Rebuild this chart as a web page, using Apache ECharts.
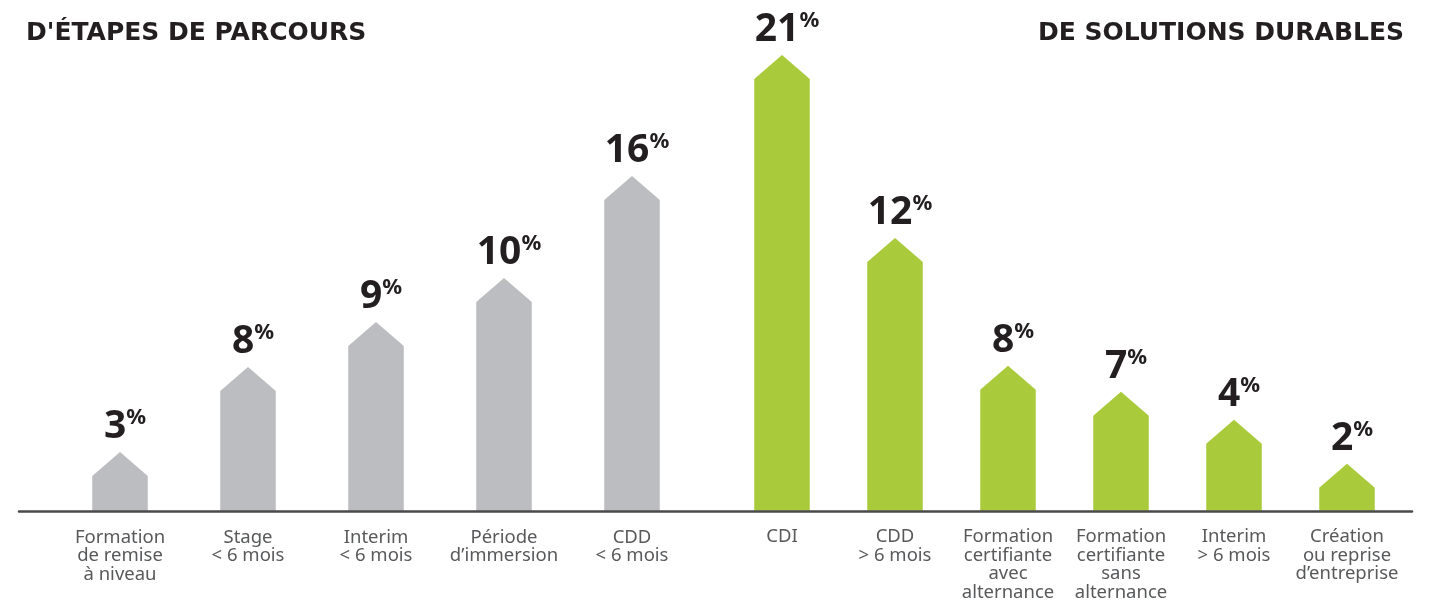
<!DOCTYPE html>
<html>
<head>
<meta charset="utf-8">
<script src="https://cdn.jsdelivr.net/npm/echarts@6.0.0/dist/echarts.min.js"></script>
<style>
html,body{margin:0;padding:0;background:#fff;}
#chart{width:1439px;height:602px;}
</style>
</head>
<body>
<div id="chart"></div>
<script>
// ---- data ----
const titleLeft = "D'ÉTAPES DE PARCOURS";
const titleRight = "DE SOLUTIONS DURABLES";

const stepCategories = ["Formation\nde remise\nà niveau", "Stage\n< 6 mois", "Interim\n< 6 mois", "Période\nd’immersion", "CDD\n< 6 mois"];
const stepPercents = [3, 8, 9, 10, 16];
// visual bar heights (arrow tip above baseline), as drawn in the picture
const stepHeights = [59, 144, 189, 233, 335];

const solutionCategories = ["CDI", "CDD\n> 6 mois", "Formation\ncertifiante\navec\nalternance", "Formation\ncertifiante\nsans\nalternance", "Interim\n> 6 mois", "Création\nou reprise\nd’entreprise"];
const solutionPercents = [21, 12, 8, 7, 4, 2];
const solutionHeights = [456, 273, 145, 119, 91, 47];

const heightMax = 460;

// ---- styles ----
const GRAY = '#bcbdc0';
const GREEN = '#a9ca3a';
const DARK = '#231f20';
const LABEL = '#58595b';
const BAR_W = 55.5;
const TIP_H = 24;

function makeRender(percents, color) {
  return function (params, api) {
    const idx = api.value(0);
    const top = api.coord([idx, api.value(1)]);
    const base = api.coord([idx, 0]);
    const cx = top[0];
    const x0 = cx - BAR_W / 2, x1 = cx + BAR_W / 2;
    return {
      type: 'group',
      children: [
        {
          type: 'polygon',
          shape: { points: [[x0, base[1]], [x0, top[1] + TIP_H], [cx, top[1]], [x1, top[1] + TIP_H], [x1, base[1]]] },
          style: { fill: color }
        },
        {
          type: 'text',
          style: {
            text: '{n|' + percents[params.dataIndex] + '}{p|%}',
            x: cx + 5,
            y: top[1] - 5,
            align: 'center',
            verticalAlign: 'bottom',
            rich: {
              n: { fontFamily: 'Noto Sans', fontWeight: 'bold', fontSize: 39, lineHeight: 40, fill: DARK, color: DARK },
              p: { fontFamily: 'Noto Sans', fontWeight: 'bold', fontSize: 22, lineHeight: 28, verticalAlign: 'top', fill: DARK, color: DARK }
            }
          }
        }
      ]
    };
  };
}

const catAxisLabel = {
  interval: 0,
  fontFamily: 'Noto Sans',
  fontSize: 18.5,
  lineHeight: 18.5,
  color: LABEL,
  margin: 17
};

const titleStyle = { fontFamily: 'DejaVu Sans', fontWeight: 'bold', fontSize: 25, color: DARK };

const chart = echarts.init(document.getElementById('chart'), null, { renderer: 'canvas' });
chart.setOption({
  animation: false,
  backgroundColor: '#fff',
  title: [
    { text: titleLeft, left: 21, top: 16, textStyle: titleStyle },
    { text: titleRight, right: 30, top: 16, textStyle: titleStyle }
  ],
  grid: [
    { left: 56, width: 640, top: 51, bottom: 91 },
    { left: 725.5, width: 678, top: 51, bottom: 91 },
    { left: 19, right: 27, top: 51, bottom: 91 }
  ],
  xAxis: [
    { type: 'category', gridIndex: 0, data: stepCategories, axisLine: { show: false }, axisTick: { show: false }, axisLabel: catAxisLabel },
    { type: 'category', gridIndex: 1, data: solutionCategories, axisLine: { show: false }, axisTick: { show: false }, axisLabel: catAxisLabel },
    { type: 'value', gridIndex: 2, min: 0, max: 1, z: 10, axisLine: { show: true, lineStyle: { color: '#4a4a4a', width: 2.5 } }, axisTick: { show: false }, axisLabel: { show: false }, splitLine: { show: false } }
  ],
  yAxis: [
    { type: 'value', gridIndex: 0, min: 0, max: heightMax, show: false },
    { type: 'value', gridIndex: 1, min: 0, max: heightMax, show: false },
    { type: 'value', gridIndex: 2, min: 0, max: heightMax, show: false }
  ],
  series: [
    {
      type: 'custom', xAxisIndex: 0, yAxisIndex: 0, z: 2,
      data: stepHeights.map((h, i) => [i, h]),
      encode: { x: 0, y: 1 },
      renderItem: makeRender(stepPercents, GRAY)
    },
    {
      type: 'custom', xAxisIndex: 1, yAxisIndex: 1, z: 2,
      data: solutionHeights.map((h, i) => [i, h]),
      encode: { x: 0, y: 1 },
      renderItem: makeRender(solutionPercents, GREEN)
    }
  ]
});
</script>
</body>
</html>
